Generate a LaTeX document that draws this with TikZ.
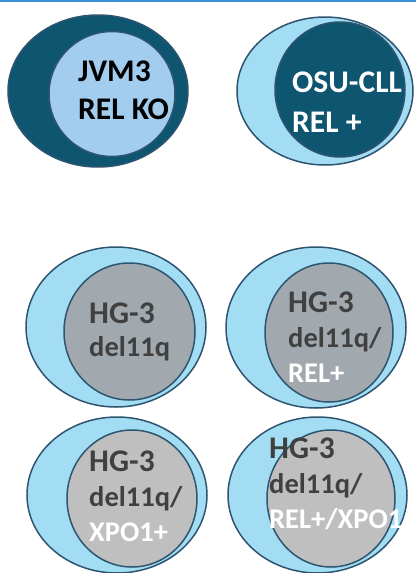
\documentclass[tikz,border=0pt]{standalone}
\usepackage{fontspec}
\setmainfont{Carlito}
\definecolor{teal1}{HTML}{0E5570}
\definecolor{lblue}{HTML}{A3CDEE}
\definecolor{sky}{HTML}{A2DDF3}
\definecolor{rim}{HTML}{2E5470}
\definecolor{gray1}{HTML}{A1A9AF}
\definecolor{gray2}{HTML}{BFBFBF}
\definecolor{txtgray}{HTML}{404040}
\definecolor{topline}{HTML}{3D8FD6}
\begin{document}
\begin{tikzpicture}[x=1pt,y=-1pt,
  shapeline/.style={draw=rim,line width=1.5pt},
  lbl/.style={anchor=base west,inner sep=0pt,font=\fontsize{31.5}{35}\selectfont\bfseries},
  sm/.style={font=\fontsize{28.5}{32}\selectfont\bfseries},
  dk/.style={lbl,text=black},
  wt/.style={lbl,text=white},
  gy/.style={lbl,text=txtgray}]
\useasboundingbox (0,0) rectangle (416,573);
\fill[white] (0,0) rectangle (416,573);
\fill[topline] (0,0) rectangle (416,2);
% cell 1
\draw[shapeline,fill=teal1] (98,91) ellipse [x radius=90,y radius=76];
\draw[shapeline,fill=lblue] (112,94) ellipse [x radius=63,y radius=62.5];
\node[dk] (a1) at (78,81) {JVM3};
\node[dk] (a2) at (78,119) {REL KO};
% cell 2
\draw[shapeline,fill=sky] (325,91) ellipse [x radius=88,y radius=74];
\draw[shapeline,fill=teal1] (340,89.5) ellipse [x radius=65,y radius=67.5];
\node[wt] (b1) at (292,92) {OSU-CLL};
\node[wt] (b2) at (292,132) {REL +};
% cell 3
\draw[shapeline,fill=sky] (116,327) ellipse [x radius=90,y radius=80];
\draw[shapeline,fill=gray1] (129.5,331.5) ellipse [x radius=65.5,y radius=68.5];
\node[gy] (c1) at (89,323) {HG-3};
\node[gy,sm] (c2) at (89,356) {del11q};
% cell 4
\draw[shapeline,fill=sky] (316,327.5) ellipse [x radius=90,y radius=80.5];
\draw[shapeline,fill=gray1] (329,332.5) ellipse [x radius=64,y radius=69.5];
\node[gy] (d1) at (288,312) {HG-3};
\node[gy,sm] (d2) at (288,347) {del11q/};
\node[wt,sm] (d3) at (288,382) {REL+};
% cell 5
\draw[shapeline,fill=sky] (117,495) ellipse [x radius=90,y radius=78];
\draw[shapeline,fill=gray2] (132,498.5) ellipse [x radius=65,y radius=68.5];
\node[gy] (e1) at (89,471) {HG-3};
\node[gy,sm] (e2) at (89,506) {del11q/};
\node[wt,sm] (e3) at (89,541) {XPO1+};
% cell 6
\draw[shapeline,fill=sky] (317.5,495) ellipse [x radius=89.5,y radius=78];
\draw[shapeline,fill=gray2] (331,498.5) ellipse [x radius=64,y radius=68.5];
\node[gy] (f1) at (269,458) {HG-3};
\node[gy,sm] (f2) at (269,493) {del11q/};
\node[wt,sm] (f3) at (269,528) {REL+/XPO1};
\end{tikzpicture}
\end{document}
